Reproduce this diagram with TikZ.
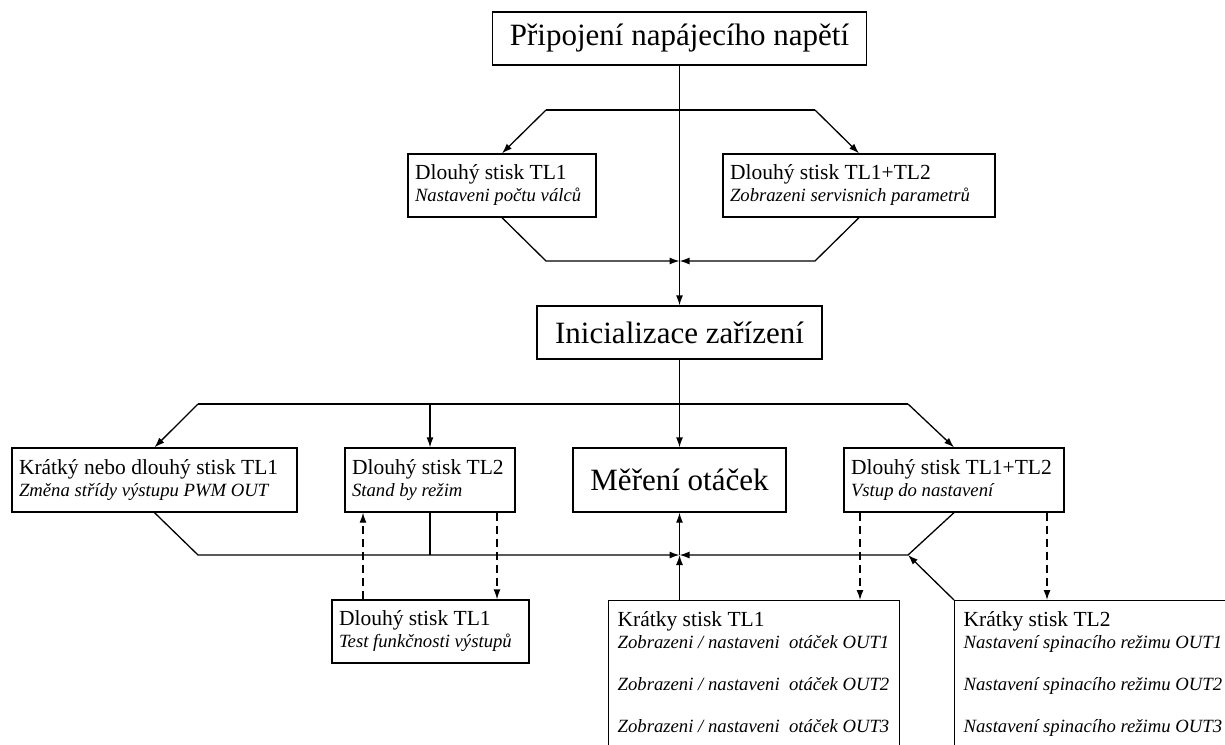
\documentclass[tikz,border=0pt]{standalone}
\usepackage{fontspec}
\setmainfont{Liberation Serif}
\usetikzlibrary{arrows.meta}

\newcommand{\itline}[1]{\mbox{\fontsize{18.7}{22}\selectfont\itshape #1}}

\begin{document}
\begin{tikzpicture}[x=1pt,y=-1pt,line width=1.3pt,>={Latex[length=10pt,width=7pt]},
    bigbox/.style={draw,font=\fontsize{31}{33}\selectfont,inner sep=0pt,minimum height=53pt},
    keybox/.style={draw,align=flush left,inner xsep=7pt,font=\fontsize{21.5}{22}\selectfont},
    dashlink/.style={->,dash pattern=on 8pt off 5pt}]

        \useasboundingbox (0,0) rectangle (1225,744);
        \clip (0,0) rectangle (1225,744);

        \node[bigbox,minimum width=374pt] (power) at (679.5,38.5) {Připojení napájecího napětí};
        \node[keybox,text width=174pt,minimum height=63pt] (longA) at (502,185.5) {Dlouhý stisk TL1\\\itline{Nastaveni počtu válců}};
        \node[keybox,text width=258pt,minimum height=63pt] (longB) at (859,185.5) {Dlouhý stisk TL1+TL2\\\itline{Zobrazeni servisnich parametrů}};
        \node[bigbox,minimum width=285pt] (init) at (679.5,332.5) {Inicializace zařízení};

        \node[keybox,text width=271pt,minimum height=64pt] (pwm) at (154.5,480) {Krátký nebo dlouhý stisk TL1\\\itline{Změna střídy výstupu PWM OUT}};
        \node[keybox,text width=156pt,minimum height=64pt] (standby) at (430,480) {Dlouhý stisk TL2\\\itline{Stand by režim}};
        \node[bigbox,minimum width=213pt,minimum height=64pt] (measure) at (679.5,480) {Měření otáček};
        \node[keybox,text width=206pt,minimum height=64pt] (setup) at (954,480) {Dlouhý stisk TL1+TL2\\\itline{Vstup do nastavení}};

        \node[keybox,text width=183pt,minimum height=63pt] (test) at (430.5,631.5) {Dlouhý stisk TL1\\\itline{Test funkčnosti výstupů}};
        \node[keybox,anchor=north west,text width=273pt,inner xsep=9pt,inner ysep=11pt,text depth=125pt] (speed) at (608,600) {Krátky stisk TL1\\\itline{Zobrazeni / nastaveni\ \ otáček OUT1}\\[20pt]\itline{Zobrazeni / nastaveni\ \ otáček OUT2}\\[20pt]\itline{Zobrazeni / nastaveni\ \ otáček OUT3}};
        \node[keybox,anchor=north west,text width=300pt,inner xsep=9pt,inner ysep=11pt,text depth=125pt] (mode) at (954,600) {Krátky stisk TL2\\\itline{Nastavení spinacího režimu OUT1}\\[20pt]\itline{Nastavení spinacího režimu OUT2}\\[20pt]\itline{Nastavení spinacího režimu OUT3}};

        \coordinate (splitL) at (546,110);
        \coordinate (splitR) at (815,110);
        \coordinate (mergeL) at (546,261);
        \coordinate (mergeR) at (815,261);
        \coordinate (joinT) at (679.5,261);
        \coordinate (forkL) at (198,404);
        \coordinate (forkR) at (908,404);
        \coordinate (gatherL) at (198,555);
        \coordinate (gatherR) at (908,555);
        \coordinate (joinB) at (679.5,555);
        \coordinate (dashA) at (363,0);
        \coordinate (dashB) at (497,0);
        \coordinate (dashC) at (860,0);
        \coordinate (dashD) at (1047,0);

        \draw[->] (power.south) -- (init.north);
        \draw (splitL) -- (splitR);
        \draw[->] (splitL) -- (longA.north);
        \draw[->] (splitR) -- (longB.north);
        \draw[->] (longA.south) -- (mergeL) -- (joinT);
        \draw[->] (longB.south) -- (mergeR) -- (joinT);

        \draw[->] (init.south) -- (measure.north);
        \draw (forkL) -- (forkR);
        \draw[->] (forkL) -- (pwm.north);
        \draw[->] (standby.north |- forkL) -- (standby.north);
        \draw[->] (forkR) -- (setup.north);

        \draw[->] (pwm.south) -- (gatherL) -- (joinB);
        \draw (standby.south) -- (standby.south |- joinB);
        \draw[->] (setup.south) -- (gatherR) -- (joinB);
        \draw[->] (mode.north west) -- (gatherR);
        \draw[->] (joinB |- speed.north) -- (joinB);
        \draw[->] (joinB) -- (measure.south);

        \draw[dashlink] (test.north -| dashA) -- (standby.south -| dashA);
        \draw[dashlink] (standby.south -| dashB) -- (test.north -| dashB);
        \draw[dashlink] (setup.south -| dashC) -- (speed.north -| dashC);
        \draw[dashlink] (setup.south -| dashD) -- (mode.north -| dashD);
      \end{tikzpicture}
\end{document}
